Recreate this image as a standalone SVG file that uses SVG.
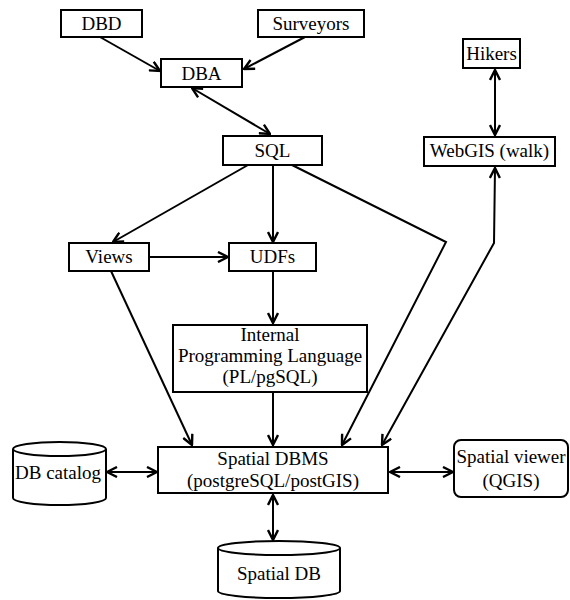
<svg xmlns="http://www.w3.org/2000/svg" width="570" height="600" viewBox="0 0 570 600">
<defs>
<style>
.box{fill:#fff;stroke:#000;stroke-width:2}
.t{font-family:"Liberation Serif","Times New Roman",serif;font-size:19px;text-anchor:middle;fill:#000}
.c{fill:none;stroke:#000;stroke-width:2}
.a{marker-end:url(#ah)}
.b{marker-start:url(#ah);marker-end:url(#ah)}
</style>
<marker id="ah" viewBox="0 0 12 12" refX="11" refY="6" markerWidth="12" markerHeight="12" markerUnits="userSpaceOnUse" orient="auto-start-reverse">
<path d="M1,1 L11,6 L1,11" fill="none" stroke="#000" stroke-width="2.4"/>
</marker>
</defs>
<rect width="570" height="600" fill="#fff"/>
<g id="connectors">
<line class="c a" x1="100" y1="37" x2="160" y2="71"/>
<line class="c a" x1="305" y1="37" x2="244" y2="69"/>
<line class="c b" x1="192" y1="88" x2="270" y2="134"/>
<line class="c a" x1="248" y1="165" x2="113" y2="242"/>
<line class="c a" x1="273" y1="165" x2="273" y2="242"/>
<polyline class="c a" points="292,165 446,242 342,445"/>
<line class="c a" x1="149" y1="257" x2="228" y2="257"/>
<line class="c a" x1="273" y1="271" x2="273" y2="323"/>
<line class="c a" x1="111" y1="271" x2="192" y2="445"/>
<line class="c a" x1="273" y1="392" x2="273" y2="445"/>
<polyline class="c b" points="495,168 494,243 382,445"/>
<line class="c b" x1="495" y1="70" x2="495" y2="135"/>
<line class="c b" x1="107" y1="472" x2="157" y2="472"/>
<line class="c b" x1="390" y1="472" x2="453" y2="472"/>
<line class="c b" x1="273" y1="495" x2="273" y2="540"/>
</g>
<g id="dbd"><rect class="box" x="61" y="10" width="81" height="27"/><text class="t" x="101.5" y="30">DBD</text></g>
<g id="surveyors"><rect class="box" x="258" y="10" width="106" height="27"/><text class="t" x="311" y="30">Surveyors</text></g>
<g id="dba"><rect class="box" x="161" y="59" width="81" height="28"/><text class="t" x="201.5" y="80">DBA</text></g>
<g id="sql"><rect class="box" x="223" y="136" width="99" height="29"/><text class="t" x="272.5" y="157">SQL</text></g>
<g id="hikers"><rect class="box" x="463" y="39" width="57" height="29"/><text class="t" x="491.5" y="60">Hikers</text></g>
<g id="webgis"><rect class="box" x="424" y="137" width="131" height="29"/><text class="t" x="489.5" y="157">WebGIS (walk)</text></g>
<g id="views"><rect class="box" x="69" y="243" width="80" height="28"/><text class="t" x="109" y="263">Views</text></g>
<g id="udfs"><rect class="box" x="229" y="243" width="87" height="28"/><text class="t" x="272.5" y="263">UDFs</text></g>
<g id="ipl"><rect class="box" x="173" y="325" width="194" height="67"/>
<text class="t" x="270" y="341">Internal</text><text class="t" x="270" y="362">Programming Language</text><text class="t" x="270" y="383">(PL/pgSQL)</text></g>
<g id="dbms"><rect class="box" x="158" y="447" width="230" height="46"/>
<text class="t" x="273" y="465">Spatial DBMS</text><text class="t" x="273" y="487">(postgreSQL/postGIS)</text></g>
<g id="dbcatalog"><path class="box" d="M13,449 L13,498 A46.5,7 0 0 0 106,498 L106,449"/><ellipse class="box" cx="59.5" cy="449" rx="46.5" ry="7"/>
<text class="t" x="58" y="479">DB catalog</text></g>
<g id="viewer"><rect class="box" x="454" y="440" width="114" height="57" rx="7"/>
<text class="t" x="511" y="463">Spatial viewer</text><text class="t" x="511" y="487">(QGIS)</text></g>
<g id="spatialdb"><path class="box" d="M218,548 L218,591 A61,7 0 0 0 340,591 L340,548"/><ellipse class="box" cx="279" cy="548" rx="61" ry="7"/>
<text class="t" x="279" y="580">Spatial DB</text></g>
</svg>
